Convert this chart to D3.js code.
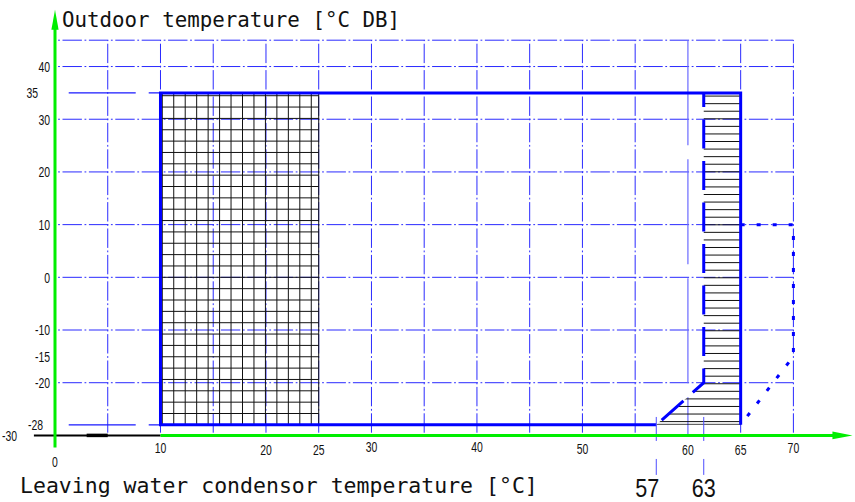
<!DOCTYPE html>
<html>
<head>
<meta charset="utf-8">
<script src="https://cdn.jsdelivr.net/npm/d3@7"></script>
<style>
  body { margin: 0; background: #fff; }
  svg { display: block; }
</style>
</head>
<body>
<div id="chart"></div>
<script>
const width = 855;
const height = 502;

// grid (°C)
const gridX = [5, 10, 15, 20, 25, 30, 35, 40, 45, 50, 55, 65, 70];
const gridY = [45, 40, 30, 20, 10, 0, -10, -20];
const xTickLabels = [0, 10, 20, 25, 30, 40, 50, 60, 65, 70];
const yTickLabels = [40, 35, 30, 20, 10, 0, -10, -15, -20, -28, -30];

// operating envelope (leaving water temp, outdoor temp)
const envelope = [[57, -28], [10, -28], [10, 35], [65, 35], [65, -28]];
const gridHatchArea = [[10, -28], [25, 35]];
const lineHatchArea = [[61.5, 35], [65, 35], [65, -28], [57, -28], [61.5, -20]];
const dashedBoundary = [[61.5, 35], [61.5, -20], [57, -28]];
const dottedExtension = [[65, 10], [70, 10], [70, -15], [65, -28]];
const leaders = [[[1.3, 35], [10, 35]], [[1.3, -28], [10, -28]]];
const baseLine = [[-2, -30], [10, -30]];
const baseLineThick = [[3, -30], [5, -30]];
const markers = [{ label: "57", x: 57 }, { label: "63", x: 61.5 }];

const sans = "'Liberation Sans', Arial, sans-serif";
const mono = "'DejaVu Sans Mono', monospace";

const x = d3.scaleLinear().domain([0, 70]).range([55, 793.4]);
const y = d3.scaleLinear().domain([-30, 45]).range([435.4, 40.2]);

const svg = d3.select("#chart")
  .append("svg")
  .attr("width", width)
  .attr("height", height);

const line = d3.line().x(d => x(d[0])).y(d => y(d[1]));

// dash-dot grid, one dot on each crossing
const dashDot = "19.4,2.6,1.8,2.6";
const dashOff = 22.9;

svg.append("g")
  .selectAll("line")
  .data(gridY)
  .join("line")
  .attr("x1", x(0) + 2)
  .attr("x2", x(70))
  .attr("y1", d => y(d))
  .attr("y2", d => y(d))
  .attr("stroke", "#2a2aff")
  .attr("stroke-width", 1)
  .attr("stroke-dasharray", dashDot)
  .attr("stroke-dashoffset", dashOff - 2);

svg.append("g")
  .selectAll("line")
  .data(gridX)
  .join("line")
  .attr("x1", d => x(d))
  .attr("x2", d => x(d))
  .attr("y1", y(45))
  .attr("y2", y(-30))
  .attr("stroke", "#2a2aff")
  .attr("stroke-width", 1)
  .attr("stroke-dasharray", dashDot)
  .attr("stroke-dashoffset", dashOff);

// 60 line is drawn with long dashes
svg.append("line")
  .attr("x1", x(60)).attr("x2", x(60))
  .attr("y1", y(45)).attr("y2", y(-30))
  .attr("stroke", "#6a6aff")
  .attr("stroke-width", 1.2)
  .attr("stroke-dasharray", "105,14");

// leader lines at 35 and -28
svg.append("g")
  .selectAll("path")
  .data(leaders)
  .join("path")
  .attr("d", line)
  .attr("fill", "none")
  .attr("stroke", "#1a1aff")
  .attr("stroke-width", 1.2)
  .attr("stroke-dasharray", "67,13");

// cross hatch 10..25
const gx0 = x(gridHatchArea[0][0]), gx1 = x(gridHatchArea[1][0]);
const gy0 = y(gridHatchArea[1][1]), gy1 = y(gridHatchArea[0][1]);
const hatch = svg.append("g").attr("stroke", "#111").attr("stroke-width", 1);
hatch.selectAll(".hv")
  .data(d3.range(gx0 + 1.8, gx1 - 2, 11.46).concat([gx1]))
  .join("line")
  .attr("x1", d => d).attr("x2", d => d)
  .attr("y1", gy0).attr("y2", gy1);
hatch.selectAll(".hh")
  .data(d3.range(gy1, gy0 + 1, -11.35))
  .join("line")
  .attr("x1", gx0).attr("x2", gx1)
  .attr("y1", d => d).attr("y2", d => d);

// line hatch 61.5..65
svg.append("clipPath")
  .attr("id", "lh")
  .append("path")
  .attr("d", line(lineHatchArea) + "Z");
const ly0 = y(35), ly1 = y(-28);
svg.append("g")
  .attr("clip-path", "url(#lh)")
  .selectAll("line")
  .data(d3.range(ly0 + 3.2, ly1, 7.57).concat([ly1 - 0.5]))
  .join("line")
  .attr("x1", x(55)).attr("x2", x(66))
  .attr("y1", d => d).attr("y2", d => d)
  .attr("stroke", "#111")
  .attr("stroke-width", 1);

// envelope outline
svg.append("path")
  .attr("d", line(envelope))
  .attr("fill", "none")
  .attr("stroke", "#0000ff")
  .attr("stroke-width", 3);

svg.append("path")
  .attr("d", line(dashedBoundary))
  .attr("fill", "none")
  .attr("stroke", "#0000ff")
  .attr("stroke-width", 3)
  .attr("stroke-dasharray", "29,12.5")
  .attr("stroke-dashoffset", 15);

svg.append("path")
  .attr("d", line(dottedExtension))
  .attr("fill", "none")
  .attr("stroke", "#0000ff")
  .attr("stroke-width", 3)
  .attr("stroke-dasharray", "4,12");

// marker leaders under the axis
svg.append("g")
  .selectAll("line")
  .data(markers)
  .join("line")
  .attr("x1", d => x(d.x)).attr("x2", d => x(d.x))
  .attr("y1", y(-26.5)).attr("y2", y(-37.5))
  .attr("stroke", "#4d4dff")
  .attr("stroke-width", 1)
  .attr("stroke-dasharray", "24,18");

// black base line at -30
svg.append("path")
  .attr("d", line(baseLine))
  .attr("stroke", "#000")
  .attr("stroke-width", 2);
svg.append("path")
  .attr("d", line(baseLineThick))
  .attr("stroke", "#000")
  .attr("stroke-width", 3.5);

// green axes with arrows
const green = "#00ee00";
svg.append("line")
  .attr("x1", x(10)).attr("x2", x(74))
  .attr("y1", y(-30)).attr("y2", y(-30))
  .attr("stroke", green).attr("stroke-width", 3);
svg.append("path")
  .attr("d", `M${x(75.6)},${y(-30)}L${x(73.7)},${y(-30) - 3.8}L${x(73.7)},${y(-30) + 3.8}Z`)
  .attr("fill", green);
svg.append("line")
  .attr("x1", x(0)).attr("x2", x(0))
  .attr("y1", y(-32.3)).attr("y2", y(48))
  .attr("stroke", green).attr("stroke-width", 3);
svg.append("path")
  .attr("d", `M${x(0)},${y(50.8)}L${x(0) - 3.6},${y(47)}L${x(0) + 3.6},${y(47)}Z`)
  .attr("fill", green);

// tick labels (narrow look: squeeze horizontally)
const squeeze = 0.72;
const yLabelX = { "35": 38, "-28": 43, "-30": 17 };
svg.append("g")
  .selectAll("text")
  .data(yTickLabels)
  .join("text")
  .attr("transform", d => `translate(${yLabelX[d] ?? 50},${y(d) + 5.3}) scale(${squeeze},1)`)
  .attr("text-anchor", "end")
  .style("font-family", sans)
  .style("font-size", "14.5px")
  .attr("fill", "#111")
  .text(d => d);

const xLabelY = { "0": 462, "10": 448, "30": 447, "40": 447, "50": 449, "70": 448 };
svg.append("g")
  .selectAll("text")
  .data(xTickLabels)
  .join("text")
  .attr("transform", d => `translate(${x(d)},${(xLabelY[d] ?? 450) + 5.3}) scale(${squeeze},1)`)
  .attr("text-anchor", "middle")
  .style("font-family", sans)
  .style("font-size", "14.5px")
  .attr("fill", "#111")
  .text(d => d);

svg.append("g")
  .selectAll("text")
  .data(markers)
  .join("text")
  .attr("transform", d => `translate(${x(d.x) - (d.label === "57" ? 9 : 0)},497) scale(0.83,1)`)
  .attr("text-anchor", "middle")
  .style("font-family", sans)
  .style("font-size", "26px")
  .attr("fill", "#111")
  .text(d => d.label);

// axis titles
svg.append("text")
  .attr("x", 62)
  .attr("y", 27)
  .style("font-family", mono)
  .style("font-size", "20.8px")
  .attr("fill", "#111")
  .text("Outdoor temperature [°C DB]");

svg.append("text")
  .attr("x", 20)
  .attr("y", 493)
  .style("font-family", mono)
  .style("font-size", "21.5px")
  .attr("fill", "#111")
  .text("Leaving water condensor temperature [°C]");
</script>
</body>
</html>
